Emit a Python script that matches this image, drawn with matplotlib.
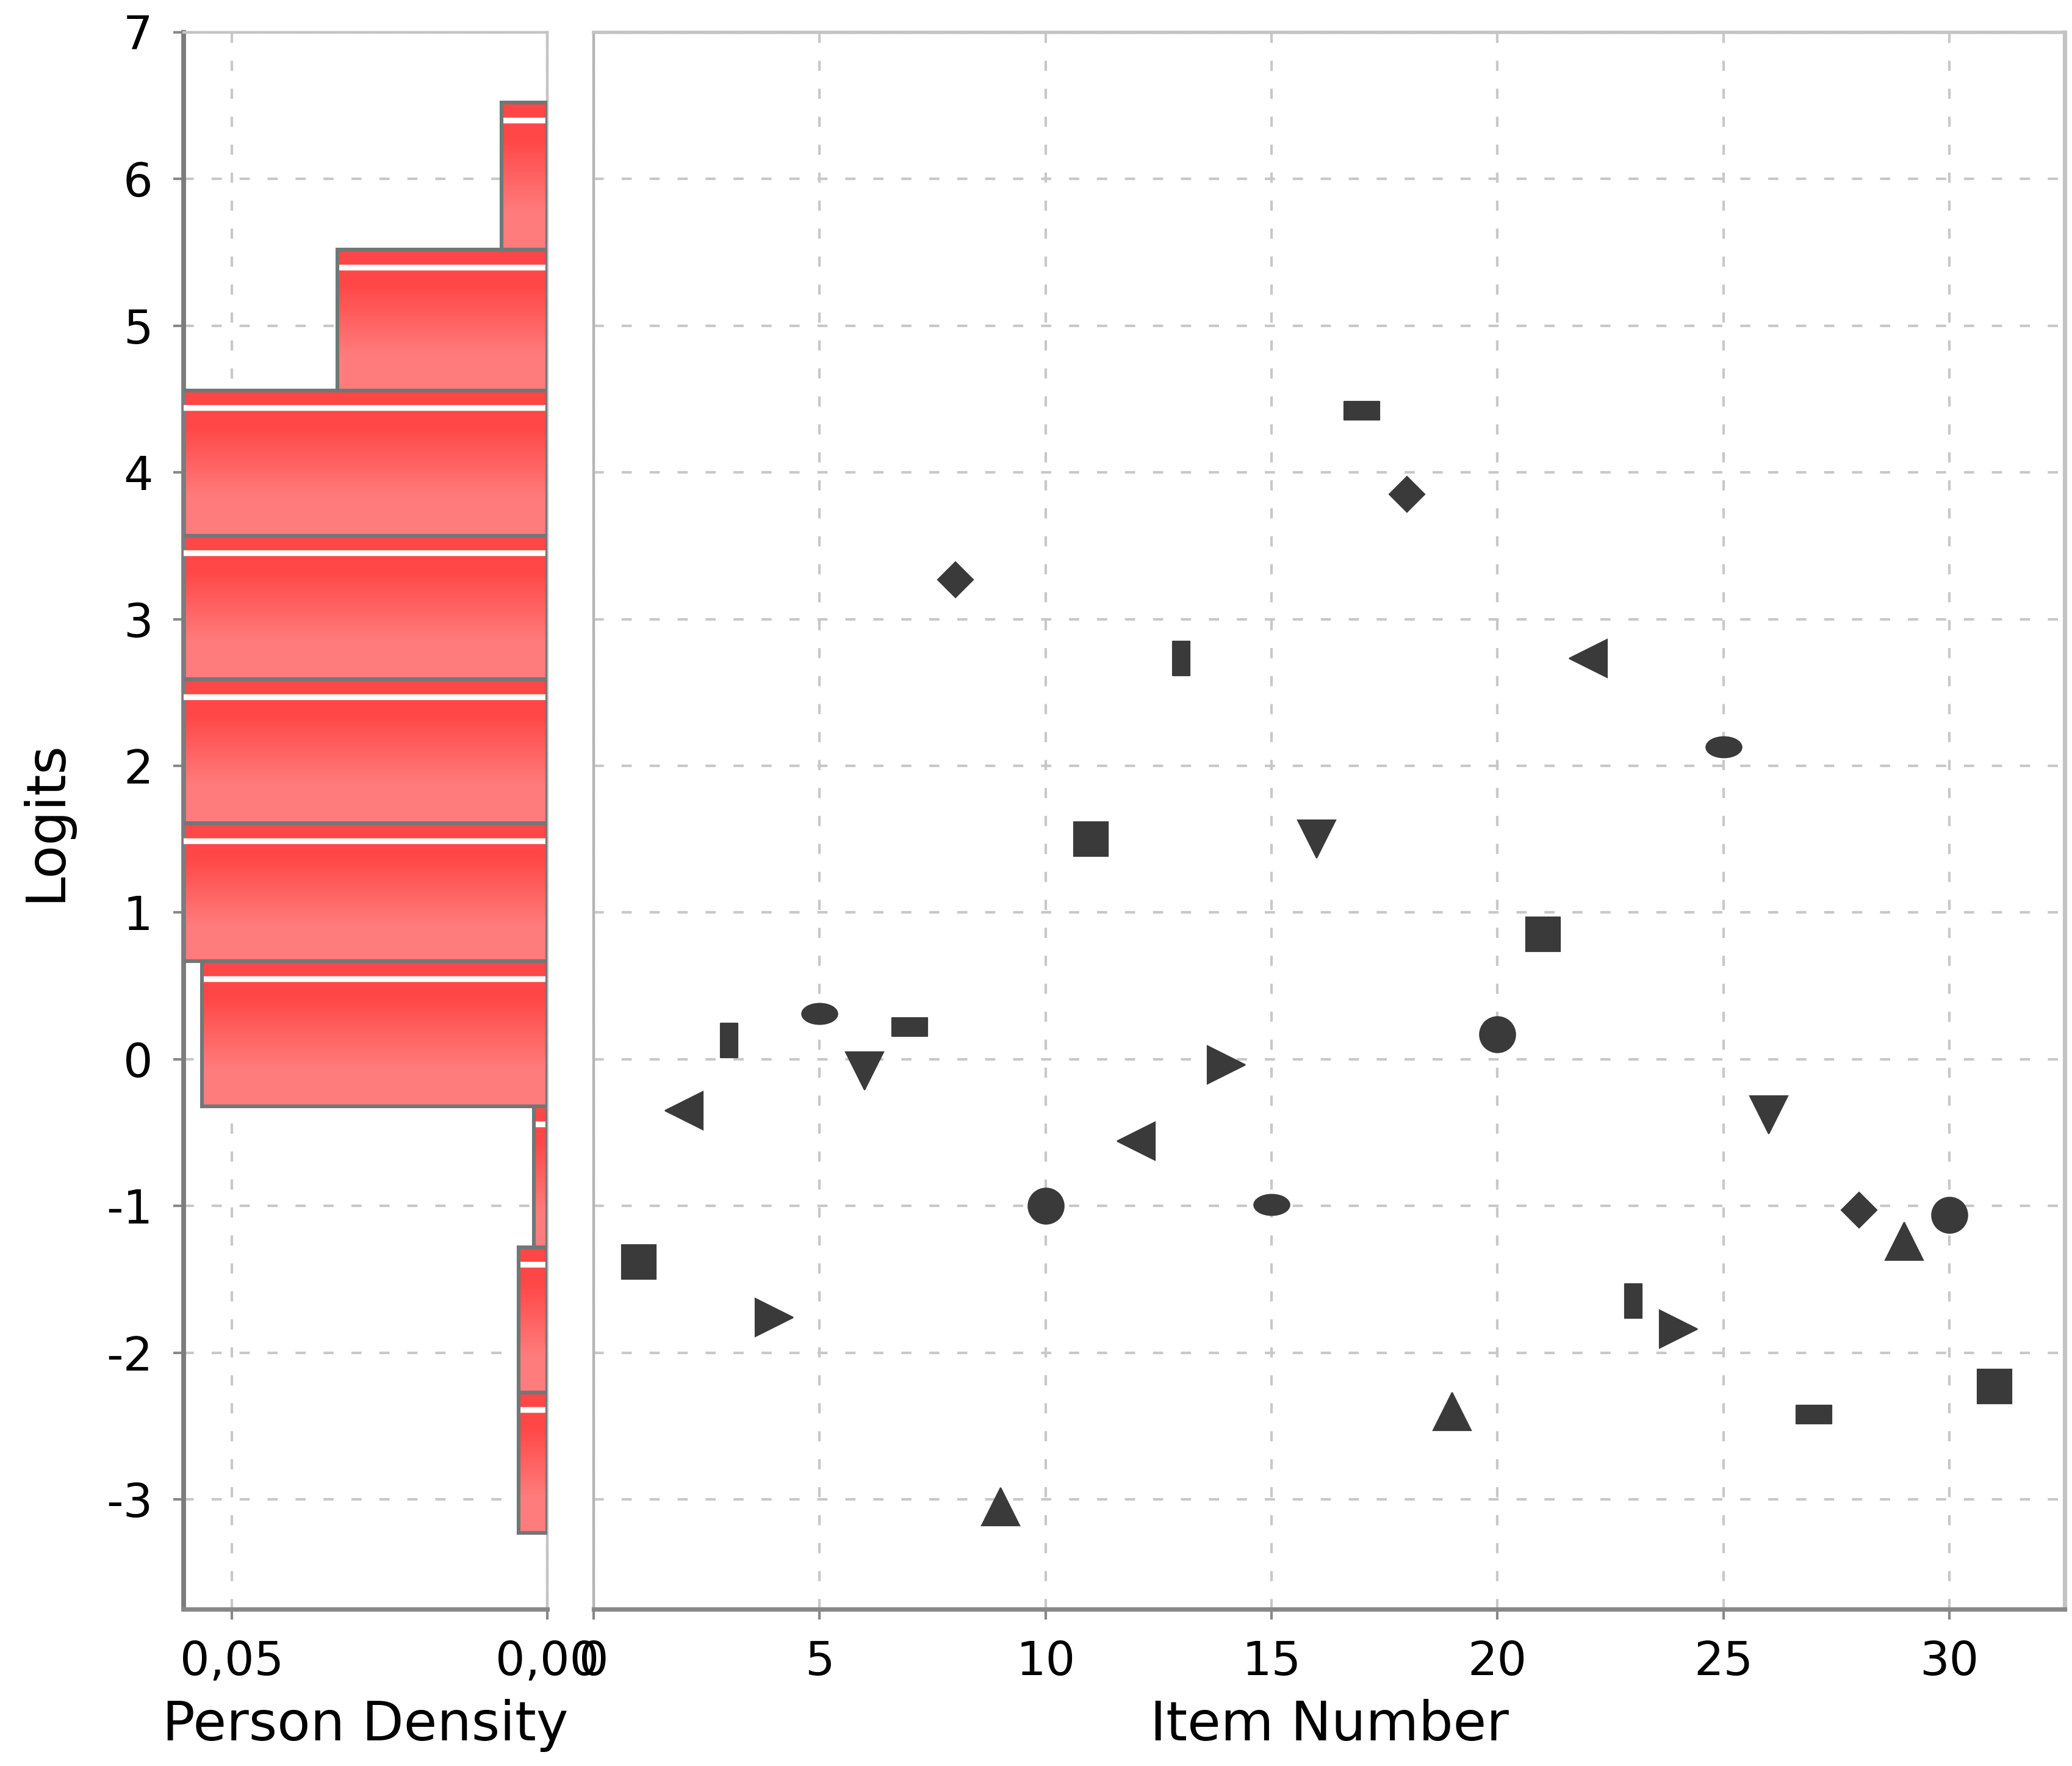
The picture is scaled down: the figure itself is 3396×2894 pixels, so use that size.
import matplotlib
matplotlib.use("Agg")
import matplotlib.pyplot as plt
import numpy as np
from matplotlib.patches import Rectangle
from matplotlib.path import Path

# person density histogram (bin edges in logits, density per bin, top to bottom)
bin_edges = [6.52, 5.52, 4.56, 3.57, 2.59, 1.61, 0.67, -0.32, -1.28, -2.27, -3.23]
person_density = [0.0072, 0.0333, 0.085, 0.095, 0.090, 0.080, 0.0548, 0.0021, 0.0045, 0.0045]

# item difficulties
item_number = list(range(1, 32))
item_logits = [-1.38, -0.35, 0.13, -1.76, 0.31, -0.08, 0.22, 3.27, -3.05, -1.00,
               1.50, -0.56, 2.73, -0.04, -0.99, 1.50, 4.42, 3.85, -2.40, 0.17,
               0.85, 2.73, -1.65, -1.84, 2.13, -0.38, -2.42, -1.03, -1.24, -1.06,
               -2.23]

plt.rcParams["font.family"] = ["DejaVu Sans"]
plt.rcParams["axes.unicode_minus"] = False

GRID = dict(color="#c8c8c8", linestyle=(0, (4, 7)), linewidth=1.5)
MARKER_COLOR = "#3a3a3a"


def shape_path(w, h, kind):
    if kind == "ellipse":
        c = Path.unit_circle()
        return Path(c.vertices * [w, h], c.codes)
    return Path([(-w, -h), (w, -h), (w, h), (-w, h), (-w, -h)], closed=True)


ellipse = shape_path(1, 0.58, "ellipse")
hrect = shape_path(1, 0.5, "rect")
vrect = shape_path(0.5, 1, "rect")

# JFreeChart style shape cycle
shapes = [("s", 20), ("<", 22), (vrect, 20.5), (">", 22), (ellipse, 21),
          ("v", 22), (hrect, 21), ("D", 15), ("^", 22), ("o", 21)]

fig = plt.figure(figsize=(16.98, 14.47), dpi=200)
ax_h = fig.add_axes([0.0885, 0.0887, 0.1756, 0.893])
ax_s = fig.add_axes([0.2865, 0.0887, 0.710, 0.893])

# --- histogram panel ---
grad = np.array([[[1.0, 0.49, 0.49]], [[1.0, 0.28, 0.28]]])
for i, d in enumerate(person_density):
    hi, lo = bin_edges[i], bin_edges[i + 1]
    ax_h.imshow(grad, extent=(0, d, lo, hi), origin="lower", aspect="auto",
                interpolation="bilinear", zorder=2)
    ax_h.hlines(hi - 0.12, 0, d, color="white", linewidth=3.4, zorder=3)
    ax_h.add_patch(Rectangle((0, lo), d, hi - lo, fill=False,
                             edgecolor="#6f7878", linewidth=2.2, zorder=4))

ax_h.set_xlim(0.0577, 0)
ax_h.set_ylim(-3.75, 7)
ax_h.set_yticks(range(-3, 8))
ax_h.set_xticks([0.05, 0.0])
ax_h.set_xticklabels(["0,05", "0,00"])
ax_h.grid(True, zorder=0, **GRID)
ax_h.set_axisbelow(True)
ax_h.set_ylabel("Logits", fontsize=32, labelpad=20)
ax_h.set_xlabel("Person Density", fontsize=32, labelpad=8)
ax_h.tick_params(axis="both", labelsize=27.5, length=6, width=1.5, color="#888888",
                 pad=12)
for side, col, lw in [("left", "#7c7c7c", 2.8), ("bottom", "#888888", 2.6),
                      ("top", "#c4c4c4", 1.6), ("right", "#c4c4c4", 1.6)]:
    ax_h.spines[side].set_color(col)
    ax_h.spines[side].set_linewidth(lw)

# --- item panel ---
for n, y in zip(item_number, item_logits):
    m, ms = shapes[(n - 1) % len(shapes)]
    ax_s.plot([n], [y], linestyle="none", marker=m, markersize=ms,
              color=MARKER_COLOR, markeredgecolor=MARKER_COLOR, markeredgewidth=0.8,
              zorder=3)

ax_s.set_xlim(0, 32.55)
ax_s.set_ylim(-3.75, 7)
ax_s.set_xticks(range(0, 31, 5))
ax_s.set_yticks(range(-3, 8))
ax_s.set_yticklabels([])
ax_s.grid(True, zorder=0, **GRID)
ax_s.set_axisbelow(True)
ax_s.set_xlabel("Item Number", fontsize=32, labelpad=8)
ax_s.tick_params(axis="x", labelsize=27.5, length=6, width=1.5, color="#888888", pad=12)
ax_s.tick_params(axis="y", length=0)
for side, col, lw in [("left", "#b4b4b4", 1.6), ("bottom", "#888888", 2.6),
                      ("top", "#c4c4c4", 2.0), ("right", "#c4c4c4", 2.6)]:
    ax_s.spines[side].set_color(col)
    ax_s.spines[side].set_linewidth(lw)

fig.savefig("out.png", dpi=200, facecolor="white")
plt.close(fig)
